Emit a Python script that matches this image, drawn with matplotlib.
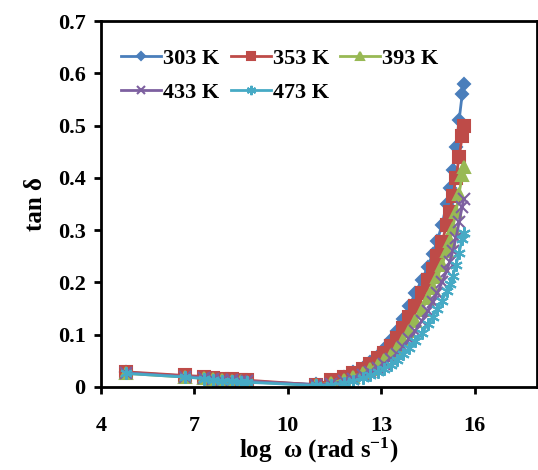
import numpy as np
import matplotlib
matplotlib.use('Agg')
import matplotlib.pyplot as plt

plt.rcParams['font.family'] = ['Liberation Serif', 'DejaVu Serif']
plt.rcParams['font.weight'] = 'bold'
plt.rcParams['mathtext.fontset'] = 'custom'
plt.rcParams['mathtext.rm'] = 'Liberation Serif:bold'
plt.rcParams['mathtext.bf'] = 'Liberation Serif:bold'
plt.rcParams['mathtext.it'] = 'Liberation Serif:bold'

# log omega values (shared by all temperatures)
log_w = [4.8, 6.7, 7.3, 7.6, 7.9, 8.2, 8.5, 8.7, 10.9, 11.4, 11.8, 12.1, 12.4,
         12.65, 12.9, 13.1, 13.3, 13.5, 13.7, 13.9, 14.1, 14.3, 14.5, 14.65,
         14.8, 14.95, 15.1, 15.2, 15.3, 15.4, 15.5, 15.6, 15.65]

tan_303 = [0.028, 0.021, 0.018, 0.016, 0.014, 0.013, 0.012, 0.011, 0.005, 0.012,
           0.020, 0.028, 0.037, 0.048, 0.060, 0.073, 0.090, 0.108, 0.130, 0.155,
           0.180, 0.205, 0.230, 0.255, 0.280, 0.310, 0.350, 0.380, 0.415, 0.460,
           0.510, 0.560, 0.580]
tan_353 = [0.029, 0.022, 0.020, 0.018, 0.016, 0.015, 0.014, 0.013, 0.004, 0.013,
           0.020, 0.027, 0.035, 0.044, 0.055, 0.066, 0.079, 0.094, 0.112, 0.133,
           0.155, 0.180, 0.205, 0.226, 0.250, 0.277, 0.310, 0.335, 0.365, 0.400,
           0.440, 0.480, 0.500]
tan_393 = [0.026, 0.019, 0.017, 0.015, 0.013, 0.012, 0.011, 0.010, 0.003, 0.008,
           0.014, 0.020, 0.027, 0.034, 0.043, 0.052, 0.062, 0.075, 0.090, 0.107,
           0.126, 0.147, 0.170, 0.190, 0.210, 0.233, 0.260, 0.280, 0.305, 0.335,
           0.370, 0.405, 0.420]
tan_433 = [0.027, 0.020, 0.018, 0.016, 0.014, 0.013, 0.012, 0.011, 0.004, 0.006,
           0.011, 0.016, 0.022, 0.028, 0.036, 0.044, 0.053, 0.064, 0.077, 0.092,
           0.108, 0.126, 0.146, 0.163, 0.180, 0.200, 0.222, 0.240, 0.260, 0.285,
           0.315, 0.345, 0.360]
tan_473 = [0.026, 0.019, 0.016, 0.014, 0.012, 0.011, 0.010, 0.009, 0.003, 0.004,
           0.008, 0.012, 0.017, 0.022, 0.028, 0.035, 0.043, 0.052, 0.063, 0.075,
           0.088, 0.103, 0.120, 0.134, 0.149, 0.165, 0.183, 0.197, 0.213, 0.233,
           0.257, 0.283, 0.295]

labels = ['303 K', '353 K', '393 K', '433 K', '473 K']
colors = ['#4A7EBB', '#BE4B48', '#98B954', '#7D60A0', '#46AAC5']
markers = ['D', 's', '^', 'x', (6, 2, 0)]
msizes = [6, 8, 8, 8, 9]

fig = plt.figure(figsize=(5.38, 4.70), dpi=100)
ax = fig.add_axes([0.1877, 0.1766, 0.8103, 0.7784])

series = [tan_303, tan_353, tan_393, tan_433, tan_473]
lines = []
for i in range(len(series)):
    ln, = ax.plot(log_w, series[i], color=colors[i], marker=markers[i], ms=msizes[i],
                  lw=2, mew=1.5, label=labels[i])
    lines.append(ln)

ax.set_xlim(4, 18)
ax.set_ylim(0, 0.7)
ax.set_xticks([4, 7, 10, 13, 16])
ax.set_yticks(np.arange(0, 0.71, 0.1))
ax.set_yticklabels(['0', '0.1', '0.2', '0.3', '0.4', '0.5', '0.6', '0.7'])
ax.tick_params(direction='out', length=5, width=2, labelsize=16, pad=6)
ax.tick_params(axis='x', pad=16)
for s in ax.spines.values():
    s.set_linewidth(2)

ax.set_xlabel('log  ω (rad s$^{-1}$)', fontsize=18, fontweight='bold', labelpad=0)
ax.set_ylabel('tan δ', fontsize=18, fontweight='bold', labelpad=8)

# legend filled row by row like the original
order = [0, 3, 1, 4, 2]
ax.legend([lines[k] for k in order], [labels[k] for k in order],
          loc='upper left', ncol=3, frameon=False, fontsize=16, markerscale=0.75,
          handlelength=1.8, columnspacing=0.5, handletextpad=0.1,
          labelspacing=0.6, bbox_to_anchor=(0.0, 0.98))

fig.savefig('out.png', dpi=100)
